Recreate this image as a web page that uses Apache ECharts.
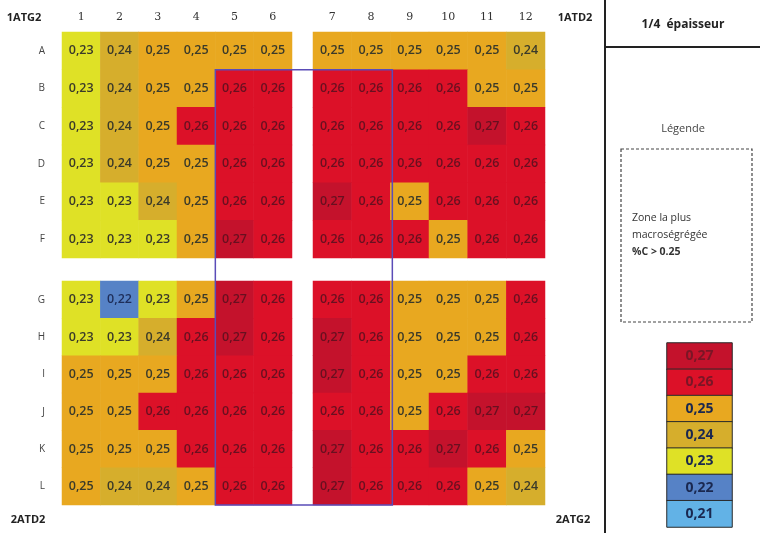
<!DOCTYPE html>
<html><head><meta charset="utf-8">
<script src="https://cdn.jsdelivr.net/npm/echarts@6/dist/echarts.min.js"></script>
<style>html,body{margin:0;padding:0;background:#fff}#c{width:760px;height:533px}</style>
</head><body><div id="c"></div>
<script>
const cols = ['1','2','3','4','5','6','7','8','9','10','11','12'];
const rows = ['A','B','C','D','E','F','G','H','I','J','K','L'];
const rowA = [0.23,0.24,0.25,0.25,0.25,0.25, 0.25,0.25,0.25,0.25,0.25,0.24];
const rowB = [0.23,0.24,0.25,0.25,0.26,0.26, 0.26,0.26,0.26,0.26,0.25,0.25];
const rowC = [0.23,0.24,0.25,0.26,0.26,0.26, 0.26,0.26,0.26,0.26,0.27,0.26];
const rowD = [0.23,0.24,0.25,0.25,0.26,0.26, 0.26,0.26,0.26,0.26,0.26,0.26];
const rowE = [0.23,0.23,0.24,0.25,0.26,0.26, 0.27,0.26,0.25,0.26,0.26,0.26];
const rowF = [0.23,0.23,0.23,0.25,0.27,0.26, 0.26,0.26,0.26,0.25,0.26,0.26];
const rowG = [0.23,0.22,0.23,0.25,0.27,0.26, 0.26,0.26,0.25,0.25,0.25,0.26];
const rowH = [0.23,0.23,0.24,0.26,0.27,0.26, 0.27,0.26,0.25,0.25,0.25,0.26];
const rowI = [0.25,0.25,0.25,0.26,0.26,0.26, 0.27,0.26,0.25,0.25,0.26,0.26];
const rowJ = [0.25,0.25,0.26,0.26,0.26,0.26, 0.26,0.26,0.25,0.26,0.27,0.27];
const rowK = [0.25,0.25,0.25,0.26,0.26,0.26, 0.27,0.26,0.26,0.27,0.26,0.25];
const rowL = [0.25,0.24,0.24,0.25,0.26,0.26, 0.27,0.26,0.26,0.26,0.25,0.24];
const values = [rowA,rowB,rowC,rowD,rowE,rowF,rowG,rowH,rowI,rowJ,rowK,rowL];
const legendValues = [0.27,0.26,0.25,0.24,0.23,0.22,0.21];
const legendColors = ['#c4122c','#dc1128','#e8a820','#d6ae2c','#dfe126','#5682c6','#62b2e6'];

function colorOf(v){ return legendColors[legendValues.findIndex(x=>Math.abs(x-v)<0.001)]; }
function labelColor(v){ return v>0.255 ? '#681020' : (v<0.225 ? '#1e2e5a' : '#3a3a2a'); }
function fmt(v){ return v.toFixed(2).replace('.',','); }

const chart = echarts.init(document.getElementById('c'), null, {renderer:'canvas'});
const font = '"Open Sans", sans-serif';
const quads = [
  {r0:0,c0:0,grid:{left:62,top:32,width:230,height:226},top:true,leftSide:true},
  {r0:0,c0:6,grid:{left:313,top:32,width:232,height:226},top:true,leftSide:false},
  {r0:6,c0:0,grid:{left:62,top:281,width:230,height:224},top:false,leftSide:true},
  {r0:6,c0:6,grid:{left:313,top:281,width:232,height:224},top:false,leftSide:false}
];
const grid=[], xAxis=[], yAxis=[], series=[];
quads.forEach((q,i)=>{
  grid.push(q.grid);
  xAxis.push({type:'category',gridIndex:i,position:'top',data:cols.slice(q.c0,q.c0+6),
    axisLine:{show:false},axisTick:{show:false},splitLine:{show:false},
    axisLabel:{show:q.top,color:'#333',fontFamily:'"DejaVu Serif", serif',fontSize:11,margin:9}});
  yAxis.push({type:'category',gridIndex:i,inverse:true,data:rows.slice(q.r0,q.r0+6),
    axisLine:{show:false},axisTick:{show:false},splitLine:{show:false},
    axisLabel:{show:q.leftSide,color:'#444',fontFamily:font,fontSize:10,margin:17}});
  const data=[];
  for(let r=0;r<6;r++) for(let c=0;c<6;c++){
    const v=values[q.r0+r][q.c0+c];
    data.push({value:[c,r,v],itemStyle:{color:colorOf(v)},label:{color:labelColor(v)}});
  }
  series.push({type:'heatmap',xAxisIndex:i,yAxisIndex:i,data:data,
    label:{show:true,formatter:p=>fmt(p.value[2]),fontFamily:font,fontSize:12.5,fontWeight:600},
    itemStyle:{borderWidth:0},emphasis:{disabled:true}});
});
// legend scale grid
grid.push({left:667,top:343,width:65,height:184});
xAxis.push({type:'category',gridIndex:4,data:['x'],show:false});
yAxis.push({type:'category',gridIndex:4,inverse:true,data:legendValues.map(fmt),show:false});
series.push({type:'heatmap',xAxisIndex:4,yAxisIndex:4,
  data:legendValues.map((v,i)=>({value:[0,i,v],itemStyle:{color:legendColors[i]},
    label:{color:v>0.255?'#7a1626':'#1a2850'}})),
  label:{show:true,formatter:p=>fmt(p.value[2]),fontFamily:font,fontSize:14,fontWeight:700},
  itemStyle:{borderColor:'#2a2a2a',borderWidth:1},emphasis:{disabled:true}});

const txt=(x,y,t,opt)=>Object.assign({type:'text',x:x,y:y,style:Object.assign({text:t,fill:'#222',font:'700 11px "Open Sans", sans-serif',align:'center',verticalAlign:'middle'},opt||{})});
const graphic=[
  txt(24,18,'1ATG2'),txt(575,18,'1ATD2'),txt(28,520,'2ATD2'),txt(573,520,'2ATG2'),
  {type:'line',shape:{x1:605,y1:0,x2:605,y2:533},style:{stroke:'#222',lineWidth:2}},
  {type:'line',shape:{x1:605,y1:47,x2:760,y2:47},style:{stroke:'#222',lineWidth:2}},
  txt(683,25,'1/4  épaisseur',{font:'700 12px "Open Sans", sans-serif'}),
  txt(683,129,'Légende',{font:'400 11px "Open Sans", sans-serif',fill:'#444'}),
  {type:'rect',shape:{x:621,y:149,width:131,height:173},style:{fill:'none',stroke:'#444',lineWidth:1.2,lineDash:[3,2]}},
  txt(632,218,'Zone la plus',{align:'left',font:'400 10.5px "Open Sans", sans-serif',fill:'#333'}),
  txt(632,235,'macroségrégée',{align:'left',font:'400 10.5px "Open Sans", sans-serif',fill:'#333'}),
  txt(632,252,'%C > 0.25',{align:'left',font:'700 10.5px "Open Sans", sans-serif',fill:'#333'})
];
chart.setOption({animation:false,backgroundColor:'#fff',grid,xAxis,yAxis,series,graphic});

// outline of the most segregated zone, from axis scales: cols 5-8, rows B-L
const a=chart.convertToPixel({xAxisIndex:0,yAxisIndex:0},[4,1]);
const b=chart.convertToPixel({xAxisIndex:0,yAxisIndex:0},[5,2]);
const bw=b[0]-a[0], bh=b[1]-a[1];
const c=chart.convertToPixel({xAxisIndex:3,yAxisIndex:3},[1,5]);
const d=chart.convertToPixel({xAxisIndex:3,yAxisIndex:3},[0,4]);
const bw2=c[0]-d[0], bh2=c[1]-d[1];
const x1=a[0]-bw/2, y1=a[1]-bh/2, x2=c[0]+bw2/2+2, y2=c[1]+bh2/2;
graphic.push({type:'rect',shape:{x:x1,y:y1,width:x2-x1,height:y2-y1},style:{fill:'none',stroke:'#5a4cb8',lineWidth:1.5},z:10});
chart.setOption({graphic});
</script></body></html>
